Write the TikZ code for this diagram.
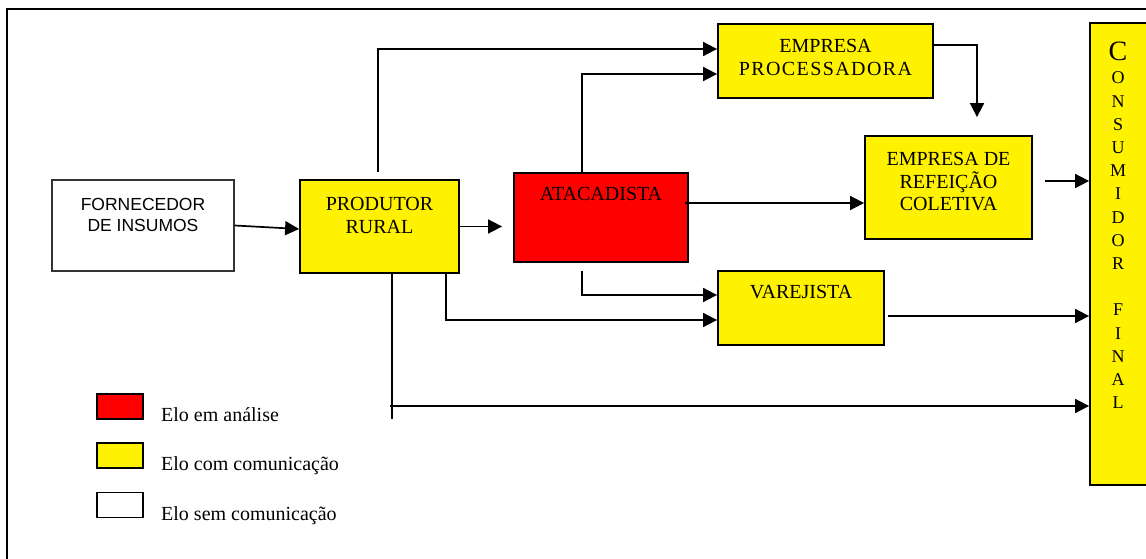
\documentclass[tikz,border=0pt]{standalone}
\usepackage{fontspec}
\setmainfont{Liberation Serif}
\newfontfamily\arialfont{Liberation Sans}
\newfontfamily\spacedserif[LetterSpace=7]{Liberation Serif}
\usetikzlibrary{arrows.meta}
\begin{document}
\begin{tikzpicture}[x=1pt,y=-1pt,
  box/.style={draw=black, line width=1.8pt, rectangle, inner sep=0pt},
  lbl/.style={inner sep=0pt, align=center, font=\fontsize{20}{22.7}\selectfont},
  legtxt/.style={anchor=base west, inner sep=0pt, font=\fontsize{20}{24}\selectfont},
  arr/.style={line width=1.7pt, -{Triangle[length=14pt,width=14pt]}},
  ln/.style={line width=1.7pt}]
\useasboundingbox (0,0) rectangle (1146,559);
\clip (0,0) rectangle (1146,559);
\draw[line width=2.2pt] (7,9) rectangle (1200,600);

% boxes
\node[box, fill=white, draw=black!80, minimum width=182pt, minimum height=91pt] (forn) at (143,225.5) {};
\node[box, fill=yellow, minimum width=159pt, minimum height=93pt] (prod) at (379.5,226.5) {};
\node[box, fill=red, minimum width=174pt, minimum height=89pt] (atac) at (601,217.5) {};
\node[box, fill=yellow, minimum width=215pt, minimum height=74pt] (proc) at (825.5,61) {};
\node[box, fill=yellow, minimum width=167pt, minimum height=103pt] (ref) at (948.5,187.5) {};
\node[box, fill=yellow, minimum width=166pt, minimum height=74pt] (var) at (801,308) {};
\node[box, fill=yellow, minimum width=80pt, minimum height=462pt] (cons) at (1130,254) {};

% labels
\node[lbl, anchor=north, font=\arialfont\fontsize{17.5}{21.5}\selectfont] (forn-t) at (143,198) {FORNECEDOR\\DE INSUMOS};
\node[lbl, anchor=north] (prod-t) at (379.5,197) {PRODUTOR\\RURAL};
\node[lbl, anchor=north] (atac-t) at (601,187) {ATACADISTA};
\node[lbl, anchor=north] (proc-t) at (825.5,39.5) {EMPRESA\\{\spacedserif PROCESSADORA}};
\node[lbl, anchor=north] (ref-t) at (948.5,152) {EMPRESA DE\\REFEIÇÃO\\COLETIVA};
\node[lbl, anchor=north] (var-t) at (801,285) {VAREJISTA};
\node[inner sep=0pt, align=center, anchor=north, font=\fontsize{18}{23.2}\selectfont] (cons-t) at (1118,42)
  {{\fontsize{28}{28}\selectfont C}\\O\\N\\S\\U\\M\\I\\D\\O\\R\\[23.2pt]F\\I\\N\\A\\L};

% connectors
\draw[arr] (forn.east) -- ([yshift=-2.5pt]prod.west);
\draw[arr] (prod.east) -- ([xshift=-11pt]atac.west |- prod.east);
\draw[arr] ([xshift=-1.5pt,yshift=7pt]prod.north) |- ([yshift=12pt]proc.west);
\draw[arr] ([xshift=-19pt]atac.north) |- ([yshift=-13pt]proc.west);
\coordinate (a1) at ([xshift=-4pt,yshift=14.5pt]atac.east);
\draw[arr] (a1) -- (ref.west |- a1);
\draw[arr] ([xshift=-19pt,yshift=-8pt]atac.south) |- ([yshift=13pt]var.west);
\draw[arr] ([xshift=66.5pt]prod.south) |- ([yshift=-12pt]var.west);
\coordinate (pl) at (392,419);
\draw[ln] ([xshift=12.5pt]prod.south) -- (pl);
\coordinate (hs) at (390,406);
\draw[arr] (hs) -- (cons.west |- hs);
\draw[arr] ([xshift=-1pt,yshift=16pt]proc.east) -| ([xshift=28.5pt,yshift=18pt]ref.north);
\coordinate (r1) at ([xshift=12pt,yshift=6.5pt]ref.east);
\draw[arr] (r1) -- (cons.west |- r1);
\coordinate (v1) at ([xshift=3pt,yshift=-8pt]var.east);
\draw[arr] (v1) -- (cons.west |- v1);

% legend
\node[box, line width=1.5pt, fill=red, minimum width=46pt, minimum height=25pt] (lr) at (120,406.5) {};
\node[box, line width=1.5pt, fill=yellow, minimum width=46pt, minimum height=25pt] (ly) at (120,455.5) {};
\node[box, line width=1.5pt, fill=white, minimum width=46pt, minimum height=25pt] (lw) at (120,505) {};
\node[legtxt] (lr-t) at (161,421) {Elo em análise};
\node[legtxt] (ly-t) at (161,470.5) {Elo com comunicação};
\node[legtxt] (lw-t) at (161,520) {Elo sem comunicação};
\end{tikzpicture}
\end{document}
